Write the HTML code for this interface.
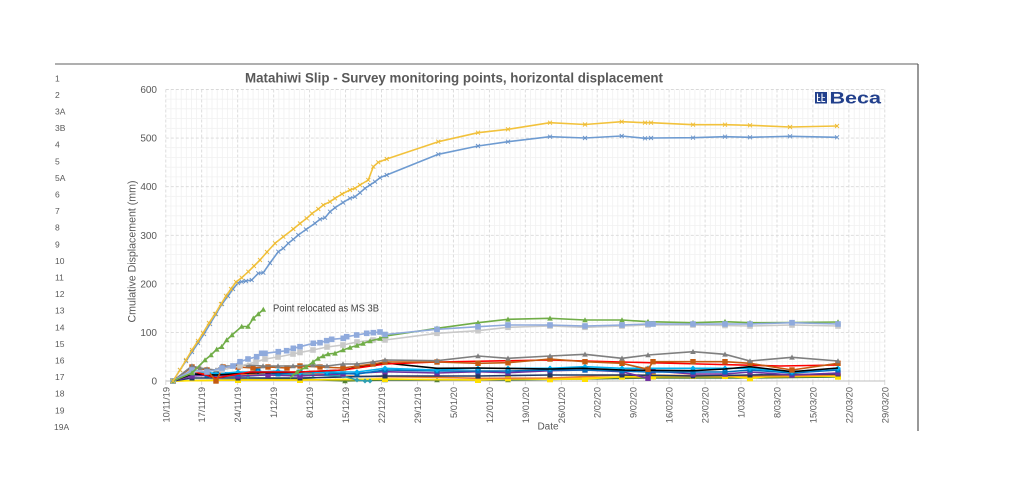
<!DOCTYPE html>
<html><head><meta charset="utf-8">
<style>
html,body{margin:0;padding:0;background:#fff;}
svg{display:block;}
text{font-family:"Liberation Sans",sans-serif;}
.s{fill:none;stroke-width:1.6;stroke-linejoin:round;}
</style></head>
<body>
<svg width="1024" height="498" viewBox="0 0 1024 498" xmlns="http://www.w3.org/2000/svg">
<defs>
<marker id="mY" viewBox="-4 -4 8 8" markerWidth="8" markerHeight="8" markerUnits="userSpaceOnUse"><path d="M-2,-2L2,2M-2,2L2,-2" stroke="#eebb33" stroke-width="0.9" fill="none"/></marker>
<marker id="mB" viewBox="-4 -4 8 8" markerWidth="8" markerHeight="8" markerUnits="userSpaceOnUse"><path d="M-2,-2L2,2M-2,2L2,-2" stroke="#6a93c8" stroke-width="0.9" fill="none"/></marker>
<marker id="mG" viewBox="-4 -4 8 8" markerWidth="8" markerHeight="8" markerUnits="userSpaceOnUse"><path d="M0,-2.8L2.8,2.3L-2.8,2.3Z" fill="#70ad47"/></marker>
<marker id="mLB" viewBox="-4 -4 8 8" markerWidth="8" markerHeight="8" markerUnits="userSpaceOnUse"><rect x="-2.8" y="-2.8" width="5.6" height="5.6" fill="#8faadc"/></marker>
<marker id="mSV" viewBox="-4 -4 8 8" markerWidth="8" markerHeight="8" markerUnits="userSpaceOnUse"><rect x="-2.8" y="-2.8" width="5.6" height="5.6" fill="#c9c9c9"/></marker>
<marker id="mGR" viewBox="-4 -4 8 8" markerWidth="8" markerHeight="8" markerUnits="userSpaceOnUse"><path d="M0,-2.8L2.8,2.3L-2.8,2.3Z" fill="#7f7f7f"/></marker>
<marker id="mBR" viewBox="-4 -4 8 8" markerWidth="8" markerHeight="8" markerUnits="userSpaceOnUse"><rect x="-2.7" y="-2.7" width="5.4" height="5.4" fill="#c55a11"/></marker>
<marker id="mCY" viewBox="-4 -4 8 8" markerWidth="8" markerHeight="8" markerUnits="userSpaceOnUse"><path d="M0,-2.8L2.8,0L0,2.8L-2.8,0Z" fill="#00b0f0"/></marker>
<marker id="mBL" viewBox="-4 -4 8 8" markerWidth="8" markerHeight="8" markerUnits="userSpaceOnUse"><rect x="-2.5" y="-2.5" width="5" height="5" fill="#0070c0"/></marker>
<marker id="mPU" viewBox="-4 -4 8 8" markerWidth="8" markerHeight="8" markerUnits="userSpaceOnUse"><rect x="-2.7" y="-2.7" width="5.4" height="5.4" fill="#7030a0"/></marker>
<marker id="mYS" viewBox="-4 -4 8 8" markerWidth="8" markerHeight="8" markerUnits="userSpaceOnUse"><rect x="-3" y="-3" width="6" height="6" fill="#ffe000"/></marker>
<marker id="mDG" viewBox="-4 -4 8 8" markerWidth="8" markerHeight="8" markerUnits="userSpaceOnUse"><path d="M0,-2.8L2.8,2.3L-2.8,2.3Z" fill="#548235"/></marker>
<marker id="mTL" viewBox="-4 -4 8 8" markerWidth="8" markerHeight="8" markerUnits="userSpaceOnUse"><path d="M0,-2.5L2.5,0L0,2.5L-2.5,0Z" fill="#2e9fb0"/></marker>
<marker id="mNV" viewBox="-4 -4 8 8" markerWidth="8" markerHeight="8" markerUnits="userSpaceOnUse"><rect x="-2.5" y="-2.5" width="5" height="5" fill="#203864"/></marker>
</defs>

<!-- frame -->
<line x1="55" y1="64" x2="918" y2="64" stroke="#7f7f7f" stroke-width="1.2"/>
<line x1="918" y1="64" x2="918" y2="431" stroke="#555" stroke-width="1.2"/>

<!-- left labels -->
<g font-size="8.5" fill="#595959">
<text x="55" y="81.3">1</text>
<text x="55" y="97.9">2</text>
<text x="55" y="114.5">3A</text>
<text x="55" y="131.1">3B</text>
<text x="55" y="147.7">4</text>
<text x="55" y="164.3">5</text>
<text x="55" y="180.9">5A</text>
<text x="55" y="197.5">6</text>
<text x="55" y="214.1">7</text>
<text x="55" y="230.7">8</text>
<text x="55" y="247.3">9</text>
<text x="55" y="263.9">10</text>
<text x="55" y="280.5">11</text>
<text x="55" y="297.1">12</text>
<text x="55" y="313.7">13</text>
<text x="55" y="330.3">14</text>
<text x="55" y="346.9">15</text>
<text x="55" y="363.5">16</text>
<text x="55" y="380.1">17</text>
<text x="55" y="396.7">18</text>
<text x="55" y="413.3">19</text>
<text x="54" y="429.9">19A</text>
</g>

<!-- minor grid -->
<g stroke="#f1f1f1" stroke-width="0.8">
<path d="M170.9,89.5V381M176.1,89.5V381M181.2,89.5V381M186.3,89.5V381M191.5,89.5V381M196.6,89.5V381M206.9,89.5V381M212,89.5V381M217.2,89.5V381M222.3,89.5V381M227.4,89.5V381M232.6,89.5V381M242.8,89.5V381M248,89.5V381M253.1,89.5V381M258.3,89.5V381M263.4,89.5V381M268.5,89.5V381M278.8,89.5V381M283.9,89.5V381M289.1,89.5V381M294.2,89.5V381M299.4,89.5V381M304.5,89.5V381M314.8,89.5V381M319.9,89.5V381M325,89.5V381M330.2,89.5V381M335.3,89.5V381M340.4,89.5V381M350.7,89.5V381M355.9,89.5V381M361,89.5V381M366.1,89.5V381M371.3,89.5V381M376.4,89.5V381M386.7,89.5V381M391.8,89.5V381M397,89.5V381M402.1,89.5V381M407.2,89.5V381M412.4,89.5V381M422.6,89.5V381M427.8,89.5V381M432.9,89.5V381M438.1,89.5V381M443.2,89.5V381M448.3,89.5V381M458.6,89.5V381M463.7,89.5V381M468.9,89.5V381M474,89.5V381M479.2,89.5V381M484.3,89.5V381M494.6,89.5V381M499.7,89.5V381M504.8,89.5V381M510,89.5V381M515.1,89.5V381M520.2,89.5V381M530.5,89.5V381M535.7,89.5V381M540.8,89.5V381M545.9,89.5V381M551.1,89.5V381M556.2,89.5V381M566.5,89.5V381M571.6,89.5V381M576.7,89.5V381M581.9,89.5V381M587,89.5V381M592.2,89.5V381M602.4,89.5V381M607.6,89.5V381M612.7,89.5V381M617.8,89.5V381M623,89.5V381M628.1,89.5V381M638.4,89.5V381M643.5,89.5V381M648.7,89.5V381M653.8,89.5V381M658.9,89.5V381M664.1,89.5V381M674.4,89.5V381M679.5,89.5V381M684.6,89.5V381M689.8,89.5V381M694.9,89.5V381M700,89.5V381M710.3,89.5V381M715.4,89.5V381M720.6,89.5V381M725.7,89.5V381M730.9,89.5V381M736,89.5V381M746.3,89.5V381M751.4,89.5V381M756.5,89.5V381M761.7,89.5V381M766.8,89.5V381M772,89.5V381M782.2,89.5V381M787.4,89.5V381M792.5,89.5V381M797.6,89.5V381M802.8,89.5V381M807.9,89.5V381M818.2,89.5V381M823.3,89.5V381M828.5,89.5V381M833.6,89.5V381M838.7,89.5V381M843.9,89.5V381M854.2,89.5V381M859.3,89.5V381M864.4,89.5V381M869.6,89.5V381M874.7,89.5V381M879.8,89.5V381"/>
<path d="M165.8,371.3H885M165.8,361.6H885M165.8,351.9H885M165.8,342.1H885M165.8,322.7H885M165.8,313H885M165.8,303.3H885M165.8,293.5H885M165.8,274.1H885M165.8,264.4H885M165.8,254.6H885M165.8,244.9H885M165.8,225.5H885M165.8,215.8H885M165.8,206H885M165.8,196.3H885M165.8,176.9H885M165.8,167.2H885M165.8,157.4H885M165.8,147.7H885M165.8,128.3H885M165.8,118.6H885M165.8,108.8H885M165.8,99.1H885"/>
</g>
<!-- major grid -->
<g stroke="#d9d9d9" stroke-width="0.9" stroke-dasharray="3,2">
<path d="M165.8,89.5V381M201.7,89.5V381M237.7,89.5V381M273.7,89.5V381M309.6,89.5V381M345.6,89.5V381M381.5,89.5V381M417.5,89.5V381M453.4,89.5V381M489.4,89.5V381M525.3,89.5V381M561.3,89.5V381M597.2,89.5V381M633.2,89.5V381M669.1,89.5V381M705.1,89.5V381M741,89.5V381M777,89.5V381M812.9,89.5V381M848.9,89.5V381M884.8,89.5V381"/>
<path d="M165.8,89.5H885M165.8,138.1H885M165.8,186.7H885M165.8,235.3H885M165.8,283.8H885M165.8,332.4H885"/>
</g>
<!-- x axis -->
<line x1="165.8" y1="381" x2="885" y2="381" stroke="#bfbfbf" stroke-width="1"/>
<path stroke="#d0d0d0" stroke-width="0.8" d="M165.8,381v4M201.7,381v4M237.7,381v4M273.7,381v4M309.6,381v4M345.6,381v4M381.5,381v4M417.5,381v4M453.4,381v4M489.4,381v4M525.3,381v4M561.3,381v4M597.2,381v4M633.2,381v4M669.1,381v4M705.1,381v4M741,381v4M777,381v4M812.9,381v4M848.9,381v4M884.8,381v4"/>

<!-- y ticks -->
<g font-size="10" fill="#595959" text-anchor="end">
<text x="157" y="93">600</text>
<text x="157" y="141.6">500</text>
<text x="157" y="190.2">400</text>
<text x="157" y="238.8">300</text>
<text x="157" y="287.3">200</text>
<text x="157" y="335.9">100</text>
<text x="157" y="384.5">0</text>
</g>

<!-- x ticks -->
<g font-size="9.3" fill="#595959" text-anchor="end">
<text transform="translate(169.3,387) rotate(-90)">10/11/19</text>
<text transform="translate(205.2,387) rotate(-90)">17/11/19</text>
<text transform="translate(241.2,387) rotate(-90)">24/11/19</text>
<text transform="translate(277.2,387) rotate(-90)">1/12/19</text>
<text transform="translate(313.1,387) rotate(-90)">8/12/19</text>
<text transform="translate(349.1,387) rotate(-90)">15/12/19</text>
<text transform="translate(385,387) rotate(-90)">22/12/19</text>
<text transform="translate(421,387) rotate(-90)">29/12/19</text>
<text transform="translate(456.9,387) rotate(-90)">5/01/20</text>
<text transform="translate(492.9,387) rotate(-90)">12/01/20</text>
<text transform="translate(528.8,387) rotate(-90)">19/01/20</text>
<text transform="translate(564.8,387) rotate(-90)">26/01/20</text>
<text transform="translate(600.7,387) rotate(-90)">2/02/20</text>
<text transform="translate(636.7,387) rotate(-90)">9/02/20</text>
<text transform="translate(672.6,387) rotate(-90)">16/02/20</text>
<text transform="translate(708.6,387) rotate(-90)">23/02/20</text>
<text transform="translate(744.5,387) rotate(-90)">1/03/20</text>
<text transform="translate(780.5,387) rotate(-90)">8/03/20</text>
<text transform="translate(816.4,387) rotate(-90)">15/03/20</text>
<text transform="translate(852.4,387) rotate(-90)">22/03/20</text>
<text transform="translate(888.3,387) rotate(-90)">29/03/20</text>
</g>

<!-- axis titles -->
<text transform="translate(135.5,251.5) rotate(-90)" font-size="11" fill="#595959" text-anchor="middle" textLength="142" lengthAdjust="spacingAndGlyphs">Cmulative Displacement (mm)</text>
<text x="548" y="429.5" font-size="10" fill="#595959" text-anchor="middle">Date</text>

<!-- title -->
<text x="245" y="82.5" font-size="14" font-weight="bold" fill="#595959" textLength="418" lengthAdjust="spacingAndGlyphs">Matahiwi Slip - Survey monitoring points, horizontal displacement</text>

<!-- Beca logo -->
<g>
<rect x="815" y="92" width="12" height="11.5" fill="#22408c"/>
<path d="M817.5,93.5V101.5H820.5M822,93.5V101.5H825.2" stroke="#fff" stroke-width="1.1" fill="none"/>
<path d="M817.5,97.5H820M822,97.5H825" stroke="#fff" stroke-width="0.7" fill="none"/>
<text x="829.5" y="103.5" font-size="16.5" font-weight="bold" fill="#22408c" textLength="51.5" lengthAdjust="spacingAndGlyphs">Beca</text>
</g>

<!-- annotation -->
<text x="273" y="311.5" font-size="10.5" fill="#404040" textLength="106" lengthAdjust="spacingAndGlyphs">Point relocated as MS 3B</text>

<!-- low cluster series -->
<polyline class="s" stroke="#548235" marker-start="url(#mDG)" marker-mid="url(#mDG)" marker-end="url(#mDG)" points="173,381 216,380 300,379 345,381 385,380 437,380 508,380 585,379 648,378 750,378 838,377"/>
<polyline class="s" stroke="#ffc000" points="173,381 238,380 300,380 385,379 437,379.5 478,380 508,379 550,379 622,377 693,376.5 750,377 838,376"/>
<polyline class="s" stroke="#ffe000" marker-start="url(#mYS)" marker-mid="url(#mYS)" marker-end="url(#mYS)" points="173,381 238,380 300,380 385,379 478,380 508,378.3 550,379.3 585,379 622,376.7 648,375 653,376.5 693,376 725,376 750,378.3 792,374 838,376.7"/>
<polyline class="s" stroke="#ed7d31" stroke-width="2" points="173,381 192,372 216,375 238,374 268,375 300,373 343,376 385,376.7 437,377.3 478,378.3 550,378 622,375 693,375.5 750,376 838,375"/>
<polyline class="s" stroke="#203864" marker-start="url(#mNV)" marker-mid="url(#mNV)" marker-end="url(#mNV)" points="173,381 192,378 238,378 300,378 385,376 478,376 550,375 622,375 693,376 750,375 838,374"/>
<polyline class="s" stroke="#2e9fb0" marker-start="url(#mTL)" marker-mid="url(#mTL)" marker-end="url(#mTL)" points="173,381 192,374 216,377 248,376 278,374 313,375 343,376 357,380 365,381 370,381"/>
<polyline class="s" stroke="#7030a0" stroke-width="2" marker-start="url(#mPU)" marker-mid="url(#mPU)" marker-end="url(#mPU)" points="173,381 192,376 216,375 238,376 268,375 300,376 343,374 385,371.7 437,373 478,371.7 508,372.7 550,370.7 585,370 622,371.7 648,378.3 653,371 693,374 725,374 750,372 792,375 838,373"/>
<polyline class="s" stroke="#0070c0" stroke-width="2.2" marker-start="url(#mBL)" marker-mid="url(#mBL)" marker-end="url(#mBL)" points="173,381 192,373 207,375 216,372 238,374 258,371 278,374 300,372 327,373 357,374 385,370 437,371 478,371 508,371 550,370 585,370 622,371 648,372 693,372 725,372 750,370 792,373 838,370"/>
<polyline class="s" stroke="#00b0f0" stroke-width="1.8" marker-start="url(#mCY)" marker-mid="url(#mCY)" marker-end="url(#mCY)" points="173,381 192,372 207,372 216,374 238,372 258,372 278,371 300,373 327,372 357,372 385,368.3 437,370 478,368.3 508,368.3 550,368.3 585,366.7 622,368.3 648,368.3 693,368.3 725,368.3 750,368.3 792,372 838,368.3"/>
<polyline class="s" stroke="#000000" points="173,381 192,374 216,375 250,373 300,372 343,370 370,365 385,363 437,368.3 478,368 550,369 583,368.3 622,370 693,370.7 725,369 750,366.7 792,371.7 838,368"/>
<polyline class="s" stroke="#ff0000" points="173,381 192,371 216,378 250,372 300,372 343,370 385,364 437,362 550,360 621,362 700,364 780,366 838,365"/>
<polyline class="s" stroke="#c55a11" stroke-width="2.2" marker-start="url(#mBR)" marker-mid="url(#mBR)" marker-end="url(#mBR)" points="173,381 192,367 207,370 216,381 223,367 238,367 253,368 268,367 287,368 300,366 320,367 343,368 357,366 373,364 385,362 437,362 478,363.3 508,362.7 550,359 585,361.7 622,363.3 648,369.3 653,361.7 693,361.7 725,361.7 750,363.3 792,370 838,363.3"/>
<polyline class="s" stroke="#7f7f7f" stroke-width="1.8" marker-start="url(#mGR)" marker-mid="url(#mGR)" marker-end="url(#mGR)" points="173,381 192,366 200,368 207,369 216,370 222,366 233,366 248,365 263,366 278,366 293,366 313,365 327,366 343,364 357,364 373,362 385,360 437,360.7 478,356 508,358.3 550,356 585,354.3 622,358.3 648,355 693,351.7 725,354.3 750,361 792,357.3 838,361"/>

<!-- mid series -->
<polyline class="s" stroke="#c9c9c9" stroke-width="2" marker-start="url(#mSV)" marker-mid="url(#mSV)" marker-end="url(#mSV)" points="173,381 192,372 222,370 240,366 256,362 265,359 278,357 293,354 300,352.5 313,350 327,347 343,345 357,342 373,340 385,340 437,333.3 478,330.7 508,327.3 550,326 585,327.3 622,326 648,325 693,325 725,325.5 750,326 792,325 838,326"/>
<polyline class="s" stroke="#70ad47" marker-mid="url(#mG)" marker-end="url(#mG)" points="290,378 297,372 306,367 313,362 318,358.5 323,356 328,354 335,353.3 343,350 350,347.5 357,345.5 363,343.5 370,341 380,338.5 386,336 437,328.3 478,322.7 508,319.3 550,318.3 585,320 622,320 648,321.7 693,322.7 725,321.7 750,322.7 792,322.5 838,322"/>
<polyline class="s" stroke="#8faadc" stroke-width="2" marker-start="url(#mLB)" marker-mid="url(#mLB)" marker-end="url(#mLB)" points="173,381 192,370 207,372 222,368 233,366 240,361.7 248,359 256.7,356.7 261.7,353.3 265,353.3 278.3,351.7 286.7,350.7 293.3,348.3 300,346.7 313.3,343.3 320,342.7 326.7,340.7 331.7,339.3 343.3,338.3 346.7,336.7 356.7,335 366.7,333.3 373.3,332.7 380,332 385,334.5 437,329.3 478,326.7 508,325 550,325 585,326 622,325 648,324 653,324 693,324 725,324 750,324 792,322.7 838,324"/>
<polyline class="s" stroke="#70ad47" marker-start="url(#mG)" marker-mid="url(#mG)" marker-end="url(#mG)" points="173,381 192,373 205,360 211,355 216.7,349.3 221.7,346.7 226.7,340 232,335 241.7,326.5 248,326.5 253.3,318.3 258.3,314 263.3,309.5"/>

<!-- top series -->
<polyline class="s" stroke="#6e9bd1" stroke-width="1.4" marker-start="url(#mB)" marker-mid="url(#mB)" marker-end="url(#mB)" points="173,381 180,370 186,361 192,352 198,343 204,334 210,324 216,314 222,304 228,296 233,289 238,283 241.7,281.7 246,281 251.7,280 258.3,273.3 263.3,272.7 270,263 278.3,251.7 283.3,248.3 288.3,243.3 293.3,239.3 298.3,235 306,229.5 315,223.3 320,219.3 325,217.7 330,211.7 335,207.7 343,202.5 350,198.3 355,196.7 360,192.7 365,188.3 370,185 375,181.7 380,177.7 386.7,175 438.3,154.3 478,146 508,141.7 550,136.7 585,138 621.7,136 645,138.3 651,138 693,137.7 725,136.7 750,137.3 790,136.3 837,137.3"/>
<polyline class="s" stroke="#f2c23c" stroke-width="1.4" marker-start="url(#mY)" marker-mid="url(#mY)" marker-end="url(#mY)" points="173,381 180,370 186,360 192,350 198,341 203,333 209,323 215,314 221,304 226,296 231,289 236,282 241.7,277.7 248.3,271.7 254,266 260,260 267,252 275,243.3 283.3,236.7 293.3,229 300,223.5 306.7,218.3 312,213.5 318.3,209 323.3,205 330,201.7 335,198.3 342,194 350,190 355,188.3 360,185 368.3,180 373.3,166.7 378.3,162.3 386.7,159 438.3,141.7 478,132.7 508,129.3 550,122.7 585,124.5 621.7,121.7 645,122.7 651,122.7 693,124.7 725,124.7 750,125.3 790,127 837,126"/>
</svg>
</body></html>
